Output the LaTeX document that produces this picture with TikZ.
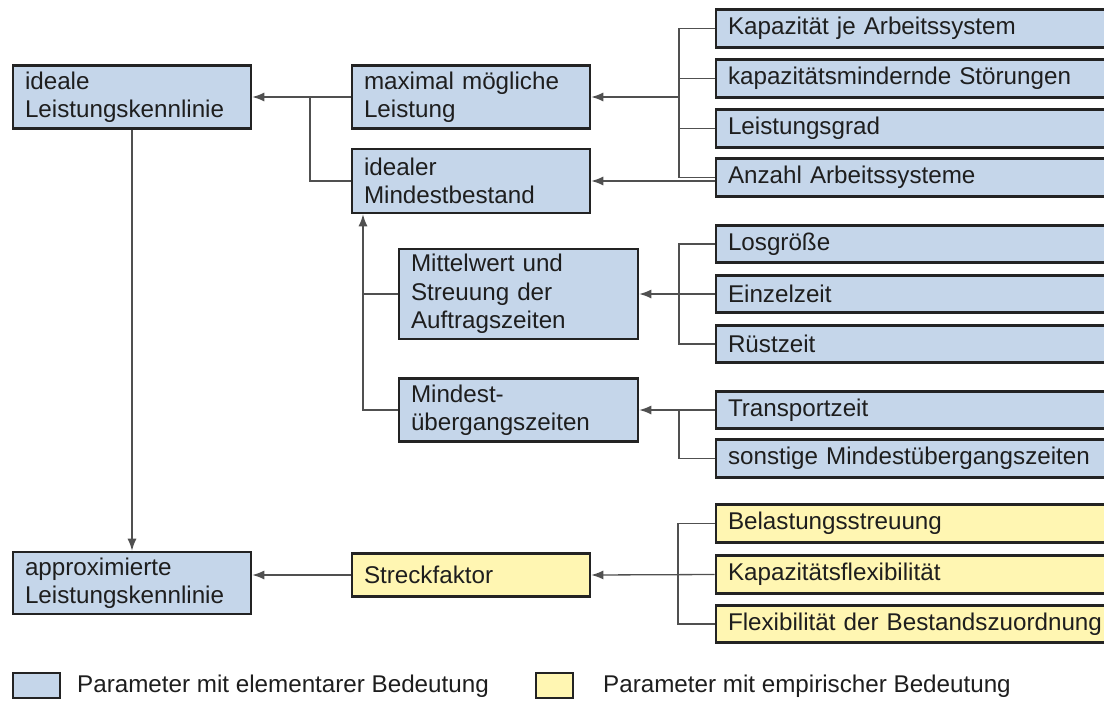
\documentclass[tikz,border=0pt]{standalone}
\usepackage{fontspec}
\setmainfont{Liberation Sans}
\usetikzlibrary{arrows.meta}
\definecolor{boxblue}{RGB}{197,214,234}
\definecolor{boxyellow}{RGB}{255,246,178}
\definecolor{edgec}{RGB}{35,35,35}
\definecolor{wirec}{RGB}{80,80,80}
\definecolor{textc}{RGB}{30,30,30}
\begin{document}
\begin{tikzpicture}[x=1pt,y=-1pt,
  box/.style={draw=edgec, line width=2.6pt, inner xsep=12pt, inner ysep=0pt,
    align=left, text=textc, anchor=center,
    font=\fontsize{24.2}{28.5}\selectfont},
  bluebox/.style={box, fill=boxblue},
  yelbox/.style={box, fill=boxyellow},
  leftw/.style={text width=214pt},
  midw/.style={text width=215pt},
  rightw/.style={text width=396pt, minimum height=37.5pt},
  wire/.style={draw=wirec, line width=1.3pt},
  arr/.style={wire, -{Latex[length=12pt,width=9pt]}},
  legtext/.style={anchor=west, text=textc, inner sep=0pt,
    font=\fontsize{24.2}{28.5}\selectfont}]
\useasboundingbox (0,0) rectangle (1104,702);
\clip (0,0) rectangle (1104,702);

% left column
\node[bluebox, leftw, minimum height=63pt] (ideal) at (132,97) {ideale\\Leistungskennlinie};
\node[bluebox, leftw, minimum height=62pt] (approx) at (132,583) {approximierte\\Leistungskennlinie};

% middle column
\node[bluebox, leftw, minimum height=63pt] (maxL) at (471,97) {maximal mögliche\\Leistung};
\node[bluebox, leftw, minimum height=64pt] (idealMB) at (471,181) {idealer\\Mindestbestand};
\node[bluebox, midw, minimum height=90pt] (mittel) at (518.5,294) {Mittelwert und\\Streuung der\\Auftragszeiten};
\node[bluebox, midw, minimum height=63pt] (mindest) at (518.5,410) {Mindest-\\übergangszeiten};
\node[yelbox, leftw, minimum height=43pt] (streck) at (471,575) {Streckfaktor};

% right column
\node[bluebox, rightw] (kap)    at (926,28.5)  {Kapazität je Arbeitssystem};
\node[bluebox, rightw] (stoer)  at (926,78.5)  {kapazitätsmindernde Störungen};
\node[bluebox, rightw] (lgrad)  at (926,128.5) {Leistungsgrad};
\node[bluebox, rightw] (anzahl) at (926,177.5) {Anzahl Arbeitssysteme};
\node[bluebox, rightw] (los)    at (926,244)   {Losgröße};
\node[bluebox, rightw] (einzel) at (926,294)   {Einzelzeit};
\node[bluebox, rightw] (ruest)  at (926,344)   {Rüstzeit};
\node[bluebox, rightw] (trans)  at (926,410)   {Transportzeit};
\node[bluebox, rightw] (sonst)  at (926,458.5) {sonstige Mindestübergangszeiten};
\node[yelbox, rightw]  (belast) at (926,523.5) {Belastungsstreuung};
\node[yelbox, rightw]  (kflex)  at (926,574.5) {Kapazitätsflexibilität};
\node[yelbox, rightw]  (bflex)  at (926,624)   {Flexibilität der Bestandszuordnung};

% junction points
\coordinate (j1) at (679,97);
\coordinate (j2) at (310,97);
\coordinate (j3) at (363,410);
\coordinate (j4) at (679,294);
\coordinate (j5) at (679,410);
\coordinate (j6) at (678,575);

% capacity inputs
\draw[wire] (kap.west) -| (j1);
\draw[wire] (anzahl.west) -| (j1);
\draw[wire] (stoer.west) -- (stoer.west -| j1);
\draw[wire] (lgrad.west) -- (lgrad.west -| j1);
\draw[arr] (j1) -- (maxL.east);
\draw[arr] (anzahl.west |- idealMB.east) -- (idealMB.east);

% to ideal curve
\draw[arr] (maxL.west) -- (ideal.east);
\draw[wire] (idealMB.west) -| (j2);
\draw[arr] (ideal.south) -- (approx.north);

% order times and transitions
\draw[arr] (mindest.west) -| (idealMB.south -| j3);
\draw[wire] (mittel.west) -- (mittel.west -| j3);
\draw[wire] (los.west) -| (j4);
\draw[wire] (ruest.west) -| (j4);
\draw[arr] (einzel.west) -- (mittel.east);
\draw[wire] (sonst.west) -| (j5);
\draw[arr] (trans.west) -- (mindest.east);

% stretch factor
\draw[wire] (belast.west) -| (j6);
\draw[wire] (bflex.west) -| (j6);
\draw[arr] (kflex.west) -- (streck.east);
\draw[arr] (streck.west) -- (streck.west -| approx.east);

% legend
\node[draw=edgec, line width=2.2pt, fill=boxblue, minimum width=47pt, minimum height=25pt, inner sep=0pt] (legblue) at (36.5,685.5) {};
\node[legtext] (legbluetext) at (77,686) {Parameter mit elementarer Bedeutung};
\node[draw=edgec, line width=2.2pt, fill=boxyellow, minimum width=37pt, minimum height=25pt, inner sep=0pt] (legyel) at (554.5,685.5) {};
\node[legtext] (legyeltext) at (603,686) {Parameter mit empirischer Bedeutung};
\end{tikzpicture}
\end{document}
